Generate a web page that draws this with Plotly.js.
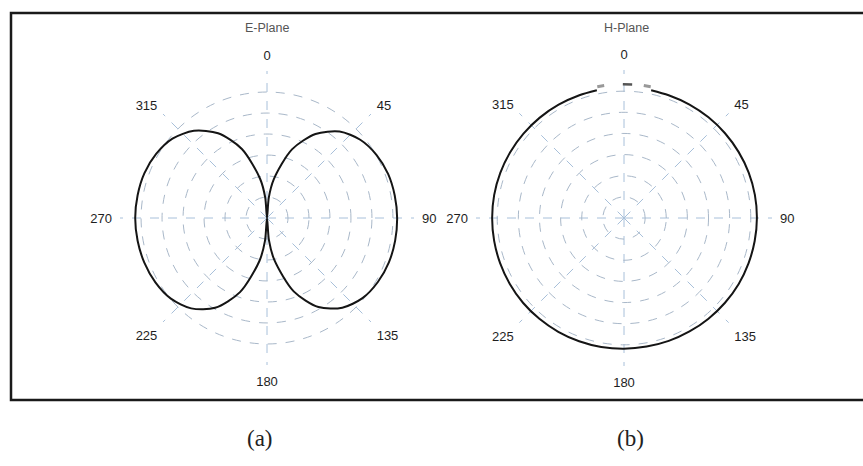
<!DOCTYPE html>
<html><head><meta charset="utf-8">
<script src="https://cdn.plot.ly/plotly-3.0.1.min.js"></script>
<style>html,body{margin:0;padding:0;background:#fff}#chart{width:863px;height:466px}</style>
</head><body><div id="chart"></div>
<script>
// ---- data (gain in dB, rings every 5 dB) ----
const eAngles = [0,5,10,20,30,40,50,60,70,80,90,100,110,120,130,140,150,160,170,175,180,
                 185,190,200,210,220,230,240,250,260,270,280,290,300,310,320,330,340,350,355,360];
const eGainDb = [-35,-30.2,-25.6,-17.6,-11.9,-8.1,-6.0,-4.9,-4.3,-4.1,-4.0,-4.0,-4.1,-4.5,-5.3,-7.1,-10.5,-16.4,-24.8,-29.7,-35,
                 -29.6,-24.6,-16.2,-10.3,-6.9,-5.1,-4.3,-3.9,-3.7,-3.6,-3.7,-3.9,-4.5,-5.6,-7.9,-11.7,-17.5,-25.5,-30.1,-35];

const hAngles = [12,20,30,40,50,60,70,80,90,100,110,120,130,140,150,160,170,180,
                 190,200,210,220,230,240,250,260,270,280,290,300,310,320,330,340,348];
const hGainDb = [-4.1,-4.1,-4.0,-3.9,-3.8,-3.7,-3.6,-3.55,-3.55,-3.6,-3.65,-3.7,-3.8,-3.9,-4.0,-4.05,-4.1,-4.05,
                 -4.0,-3.95,-3.9,-3.85,-3.8,-3.8,-3.8,-3.8,-3.8,-3.8,-3.85,-3.9,-3.95,-4.0,-4.05,-4.1,-4.1];
const hTopAngles = [359.5, 3.5];
const hTopDb = [-3.35, -3.35];
const hEdgeLeftAngles = [348.5, 351.5];
const hEdgeRightAngles = [8.5, 11.5];
const hEdgeDb = [-3.3, -3.3];

const angTickVals = [0,45,90,135,180,225,270,315];
const angTickText = ['0','45','90','135','180','225','270','315'];
const panelTitles = ['E-Plane','H-Plane'];
const panelLabels = ['(a)','(b)'];
const radialMin = -35, radialMax = 0, ringStep = 5;

// ---- styling ----
const W = 863, H = 466;
const gridCol = '#a9b8c9';
function polarCfg(domX, domY){
  return {
    domain:{x:domX, y:domY},
    bgcolor:'rgba(0,0,0,0)',
    radialaxis:{range:[radialMin, radialMax+0.02], tick0:radialMin, dtick:ringStep,
      showticklabels:false, ticks:'', showline:false, gridcolor:gridCol, griddash:'dash', gridwidth:1},
    angularaxis:{rotation:90, direction:'clockwise', tickmode:'array', tickvals:angTickVals, ticktext:angTickText,
      ticks:'outside', ticklen:5, tickcolor:'rgba(255,255,255,0)', showline:false, gridcolor:'#a8c0da', griddash:'dash', gridwidth:1,
      tickfont:{family:'Liberation Sans, Arial, sans-serif', size:13, color:'#1e1e1e'}}
  };
}
const px = (x)=>x/W, py = (y)=>1-y/H;

const lineStyle = {color:'#151515', width:2};
const traces = [
  {type:'scatterpolar', mode:'lines', theta:eAngles, r:eGainDb, subplot:'polar', line:Object.assign({shape:'spline', smoothing:0.8}, lineStyle), hoverinfo:'skip'},
  {type:'scatterpolar', mode:'lines', theta:hAngles, r:hGainDb, subplot:'polar2', line:Object.assign({shape:'spline', smoothing:0.8}, lineStyle), hoverinfo:'skip'},
  {type:'scatterpolar', mode:'lines', theta:hTopAngles, r:hTopDb, subplot:'polar2', line:{color:'#555', width:2.5}, hoverinfo:'skip'},
  {type:'scatterpolar', mode:'lines', theta:hEdgeLeftAngles, r:hEdgeDb, subplot:'polar2', line:{color:'#999', width:3}, hoverinfo:'skip'},
  {type:'scatterpolar', mode:'lines', theta:hEdgeRightAngles, r:hEdgeDb, subplot:'polar2', line:{color:'#999', width:3}, hoverinfo:'skip'}
];

const titleFont = {family:'Liberation Sans, Arial, sans-serif', size:12.5, color:'#555'};
const labelFont = {family:'Liberation Serif, Times New Roman, serif', size:23, color:'#222'};
const layout = {
  width:W, height:H, margin:{l:0,r:0,t:0,b:0}, showlegend:false,
  paper_bgcolor:'#fff',
  polar: polarCfg([px(120), px(414)], [py(365), py(71)]),
  polar2: polarCfg([px(476), px(772)], [py(366), py(70)]),
  annotations:[
    {text:panelTitles[0], x:px(267), y:py(28), xref:'paper', yref:'paper', xanchor:'center', yanchor:'middle', showarrow:false, font:titleFont},
    {text:panelTitles[1], x:px(626), y:py(28), xref:'paper', yref:'paper', xanchor:'center', yanchor:'middle', showarrow:false, font:titleFont},
    {text:panelLabels[0], x:px(260), y:py(438), xref:'paper', yref:'paper', xanchor:'center', yanchor:'middle', showarrow:false, font:labelFont},
    {text:panelLabels[1], x:px(630), y:py(438), xref:'paper', yref:'paper', xanchor:'center', yanchor:'middle', showarrow:false, font:labelFont}
  ],
  shapes:[
    {type:'rect', xref:'paper', yref:'paper', x0:px(11), x1:px(880), y0:py(400), y1:py(13), line:{color:'#1a1a1a', width:2.5}}
  ]
};
Plotly.newPlot('chart', traces, layout, {staticPlot:true, displayModeBar:false});
</script></body></html>
